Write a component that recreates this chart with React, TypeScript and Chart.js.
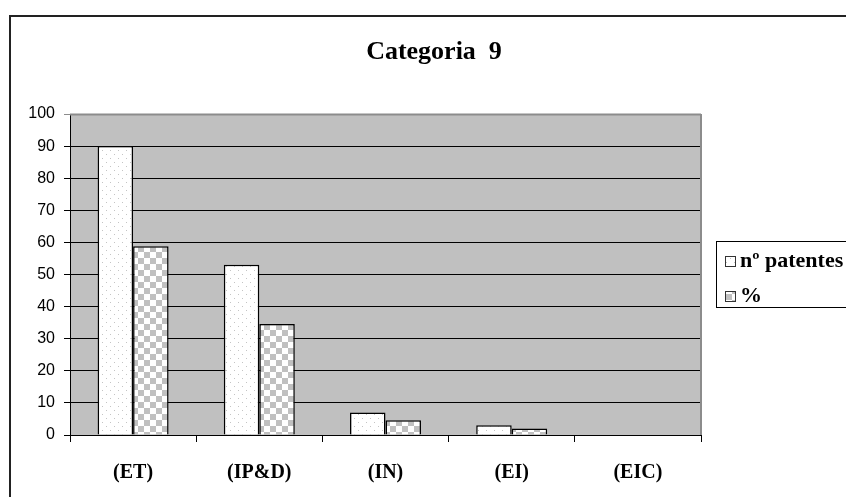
import { useEffect, useRef } from 'react';
import { Chart, registerables } from 'chart.js';

Chart.register(...registerables);

const categories = ['(ET)', '(IP&D)', '(IN)', '(EI)', '(EIC)'];
const patentes = [90, 53, 7, 3, 0];
const percent = [58.8, 34.6, 4.6, 2.0, 0];
const seriesNames = ['nº patentes', '%'];
const chartTitle = 'Categoria  9';
const yMin = 0;
const yMax = 100;
const yStep = 10;

const SERIF = "'Liberation Serif', 'Times New Roman', serif";
const SANS = "'Liberation Sans', Arial, sans-serif";

function makeDots(ctx: CanvasRenderingContext2D) {
  const c = document.createElement('canvas');
  c.width = 8;
  c.height = 8;
  const x = c.getContext('2d')!;
  x.fillStyle = '#ffffff';
  x.fillRect(0, 0, 8, 8);
  x.fillStyle = '#c4c4c4';
  x.fillRect(2, 2, 1, 1);
  x.fillRect(6, 6, 1, 1);
  return ctx.createPattern(c, 'repeat')!;
}

function makeChecker(ctx: CanvasRenderingContext2D) {
  const c = document.createElement('canvas');
  c.width = 12;
  c.height = 12;
  const x = c.getContext('2d')!;
  x.fillStyle = '#ffffff';
  x.fillRect(0, 0, 12, 12);
  x.fillStyle = '#c0c0c0';
  x.fillRect(0, 0, 6, 6);
  x.fillRect(6, 6, 6, 6);
  return ctx.createPattern(c, 'repeat')!;
}

export default function App() {
  const ref = useRef<HTMLCanvasElement | null>(null);

  useEffect(() => {
    const canvas = ref.current!;
    const ctx = canvas.getContext('2d')!;
    const dots = makeDots(ctx);
    const checker = makeChecker(ctx);

    const decor = {
      id: 'decor',
      beforeDraw(chart: any) {
        const c = chart.ctx;
        const a = chart.chartArea;
        c.save();
        c.fillStyle = '#ffffff';
        c.fillRect(0, 0, chart.width, chart.height);
        c.fillStyle = '#222222';
        c.fillRect(9, 15, 2, chart.height - 15);
        c.fillRect(9, 15, chart.width - 9, 2);
        c.fillStyle = '#c0c0c0';
        c.fillRect(a.left, a.top, a.right - a.left, a.bottom - a.top);
        c.fillStyle = '#000000';
        c.font = `bold 26px ${SERIF}`;
        c.textAlign = 'center';
        c.textBaseline = 'alphabetic';
        c.fillText(chartTitle, 434, 59);
        c.restore();
      },
      afterDatasetsDraw(chart: any) {
        const c = chart.ctx;
        const a = chart.chartArea;
        c.save();
        c.strokeStyle = '#8c8c8c';
        c.lineWidth = 2;
        c.beginPath();
        c.moveTo(a.left, a.top + 0.5);
        c.lineTo(a.right, a.top + 0.5);
        c.moveTo(a.right, a.top);
        c.lineTo(a.right, a.bottom);
        c.stroke();
        c.restore();
      },
      afterDraw(chart: any) {
        const c = chart.ctx;
        c.save();
        c.strokeStyle = '#000000';
        c.lineWidth = 1;
        c.strokeRect(716.5, 241.5, 160, 66);
        const fills = [dots, checker];
        const ys = [256.5, 291.5];
        for (let i = 0; i < 2; i++) {
          c.fillStyle = fills[i];
          c.fillRect(725.5, ys[i], 10, 10);
          c.strokeStyle = '#333333';
          c.strokeRect(725.5, ys[i], 10, 10);
          c.fillStyle = '#000000';
          c.font = `bold 22px ${SERIF}`;
          c.textAlign = 'left';
          c.textBaseline = 'middle';
          c.fillText(seriesNames[i], 740, ys[i] + 5);
        }
        c.restore();
      },
    };

    const chart = new Chart(canvas, {
      type: 'bar',
      data: {
        labels: categories,
        datasets: [
          {
            label: seriesNames[0],
            data: patentes,
            backgroundColor: dots,
            borderColor: '#000000',
            borderWidth: 1.5,
            categoryPercentage: 0.5625,
            barPercentage: 1,
          },
          {
            label: seriesNames[1],
            data: percent,
            backgroundColor: checker,
            borderColor: '#000000',
            borderWidth: 1.5,
            categoryPercentage: 0.5625,
            barPercentage: 1,
          },
        ],
      },
      options: {
        responsive: false,
        animation: false,
        devicePixelRatio: 1,
        layout: { padding: { top: 114, right: 145, left: 0, bottom: 0 } },
        plugins: {
          legend: { display: false },
          title: { display: false },
          tooltip: { enabled: false },
        },
        scales: {
          x: {
            offset: true,
            afterFit(scale: any) {
              scale.height = 62;
            },
            grid: {
              offset: true,
              drawOnChartArea: false,
              drawTicks: true,
              tickLength: 7,
              color: '#000000',
            },
            border: { color: '#000000', width: 1 },
            ticks: {
              color: '#000000',
              padding: 19,
              maxRotation: 0,
              autoSkip: false,
              font: { family: SERIF, size: 20, weight: 'bold' },
            },
          },
          y: {
            min: yMin,
            max: yMax,
            afterFit(scale: any) {
              scale.width = 70;
            },
            grid: {
              color: (c: any) => (c.tick && c.tick.value === yMax ? '#8c8c8c' : '#000000'),
              drawTicks: true,
              tickLength: 6,
              lineWidth: 1,
            },
            border: { color: '#000000', width: 1 },
            ticks: {
              stepSize: yStep,
              color: '#000000',
              padding: 9,
              font: { family: SANS, size: 16 },
            },
          },
        },
      },
      plugins: [decor],
    } as any);

    return () => chart.destroy();
  }, []);

  return (
    <div style={{ position: 'absolute', left: 0, top: 0, width: 846, height: 497 }}>
      <canvas ref={ref} width={846} height={497} style={{ width: 846, height: 497, display: 'block' }} />
    </div>
  );
}
